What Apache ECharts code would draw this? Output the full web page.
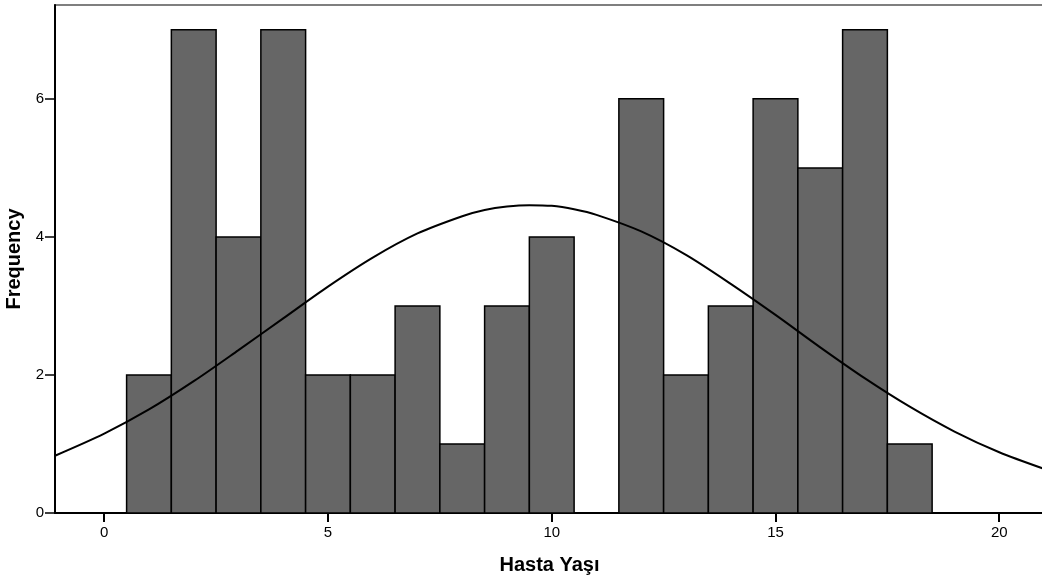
<!DOCTYPE html>
<html>
<head>
<meta charset="utf-8">
<script src="https://cdn.jsdelivr.net/npm/echarts@6/dist/echarts.min.js"></script>
<style>
  html, body { margin: 0; padding: 0; background: #fff; }
  #chart { width: 1042px; height: 582px; }
</style>
</head>
<body>
<div id="chart"></div>
<script>
// histogram bins (centre of each 1-year bin) and counts
var binCenters = [1, 2, 3, 4, 5, 6, 7, 8, 9, 10, 11, 12, 13, 14, 15, 16, 17, 18];
var binCounts  = [2, 7, 4, 7, 2, 2, 3, 1, 3, 4, 0, 6, 2, 3, 6, 5, 7, 1];

// normal curve (denser around the peak)
var curveX = [-1.1, 0, 1, 2, 3, 4, 5, 6, 7, 8, 8.5, 9, 9.5, 10, 10.5, 11, 12, 13, 14, 15, 16, 17, 18, 19, 20, 21];
var curveY = [0.83, 1.15, 1.50, 1.91, 2.36, 2.82, 3.28, 3.70, 4.05, 4.30, 4.39, 4.44, 4.46, 4.45, 4.40, 4.32, 4.08, 3.74, 3.32, 2.87, 2.40, 1.95, 1.54, 1.18, 0.88, 0.64];

// tick labels
var xTicks = [0, 5, 10, 15, 20];
var yTicks = [0, 2, 4, 6];

var myChart = echarts.init(document.getElementById('chart'));

var option = {
  animation: false,
  backgroundColor: '#fff',
  grid: {
    left: 55,
    right: -2,
    top: 5,
    bottom: 69,
    containLabel: false,
    outerBoundsMode: 'none',
    show: true,
    borderColor: '#555',
    borderWidth: 1.5
  },
  xAxis: {
    type: 'value',
    min: -1.1,
    max: 21,
    name: 'Hasta Yaşı',
    nameLocation: 'middle',
    nameGap: 42,
    nameTextStyle: {
      color: '#000',
      fontSize: 20,
      fontWeight: 'bold',
      fontFamily: 'Liberation Sans'
    },
    axisLine: { show: true, onZero: false, lineStyle: { color: '#000', width: 2 } },
    axisTick: { show: true, length: 9, customValues: xTicks, lineStyle: { color: '#000', width: 2 } },
    axisLabel: {
      customValues: xTicks,
      color: '#000',
      fontSize: 15,
      fontFamily: 'Liberation Sans',
      margin: 12
    },
    splitLine: { show: false }
  },
  yAxis: {
    type: 'value',
    min: 0,
    max: 7.36,
    name: 'Frequency',
    nameLocation: 'middle',
    nameGap: 25,
    nameTextStyle: {
      color: '#000',
      fontSize: 20,
      fontWeight: 'bold',
      fontFamily: 'Liberation Sans'
    },
    axisLine: { show: true, onZero: false, lineStyle: { color: '#000', width: 2 } },
    axisTick: { show: true, length: 10, customValues: yTicks, lineStyle: { color: '#000', width: 1.5 } },
    axisLabel: {
      customValues: yTicks,
      color: '#000',
      fontSize: 15,
      fontFamily: 'Liberation Sans',
      margin: 11
    },
    splitLine: { show: false }
  },
  series: [
    {
      type: 'custom',
      clip: true,
      data: binCenters.map(function (c, i) { return [c, binCounts[i]]; }),
      renderItem: function (params, api) {
        var x = api.value(0), y = api.value(1);
        if (!y) return null;
        var p1 = api.coord([x - 0.5, y]);
        var p2 = api.coord([x + 0.5, 0]);
        return {
          type: 'rect',
          shape: { x: p1[0], y: p1[1], width: p2[0] - p1[0], height: p2[1] - p1[1] },
          style: { fill: '#666666', stroke: '#000', lineWidth: 1.5 }
        };
      },
      z: 2
    },
    {
      type: 'line',
      data: curveX.map(function (x, i) { return [x, curveY[i]]; }),
      smooth: 0.3,
      showSymbol: false,
      lineStyle: { color: '#000', width: 2 },
      z: 3
    }
  ]
};

myChart.setOption(option);
</script>
</body>
</html>
